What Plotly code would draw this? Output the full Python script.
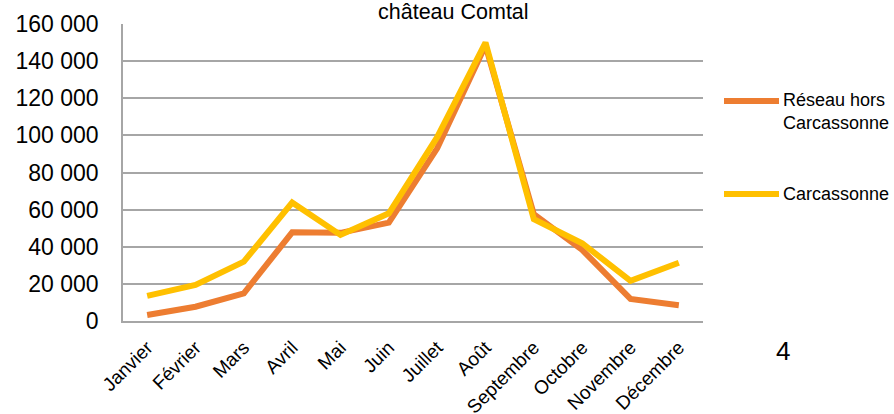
import plotly.graph_objects as go

months = ["Janvier", "Février", "Mars", "Avril", "Mai", "Juin", "Juillet",
          "Août", "Septembre", "Octobre", "Novembre", "Décembre"]
reseau_hors = [3200, 7700, 14900, 47800, 47500, 53000, 93000,
               148500, 57500, 38300, 11900, 8500]
carcassonne = [13500, 19400, 32000, 63800, 46400, 58000, 99000,
               150000, 54800, 41900, 21600, 31400]
y_ticks = [0, 20000, 40000, 60000, 80000, 100000, 120000, 140000, 160000]

ORANGE = "#ED7D31"
YELLOW = "#FFC000"
GRID = "#A6A6A6"
FONT = "Liberation Sans, Arial, sans-serif"

W, H = 894, 414
# plot area bounds in page pixels
L, R, T, B = 123, 703, 24, 321


def px_x(x):
    return (x - L) / (R - L)


def px_y(y):
    return (B - y) / (B - T)


fig = go.Figure()
fig.add_trace(go.Scatter(x=months, y=reseau_hors, mode="lines",
                         line=dict(color=ORANGE, width=6),
                         name="Réseau hors Carcassonne", showlegend=False))
fig.add_trace(go.Scatter(x=months, y=carcassonne, mode="lines",
                         line=dict(color=YELLOW, width=6),
                         name="Carcassonne", showlegend=False))

# manual legend
legend_items = [("Réseau hors<br>Carcassonne", ORANGE, 101, 111),
                ("Carcassonne", YELLOW, 194, 194)]
shapes = []
annotations = []
for text, color, ly, ty in legend_items:
    shapes.append(dict(type="line", xref="paper", yref="paper",
                       x0=px_x(724), x1=px_x(779), y0=px_y(ly), y1=px_y(ly),
                       line=dict(color=color, width=6), layer="above"))
    annotations.append(dict(text=text, xref="paper", yref="paper",
                            x=px_x(781), y=px_y(ty), xanchor="left",
                            yanchor="middle", align="left", showarrow=False,
                            font=dict(family=FONT, size=18, color="#000000")))

annotations.append(dict(text="château Comtal", xref="paper", yref="paper",
                        x=px_x(453), y=px_y(12), xanchor="center",
                        yanchor="middle", showarrow=False,
                        font=dict(family=FONT, size=21.5, color="#000000")))
annotations.append(dict(text="4", xref="paper", yref="paper",
                        x=px_x(783), y=px_y(351), xanchor="center",
                        yanchor="middle", showarrow=False,
                        font=dict(family=FONT, size=26, color="#000000")))

fig.update_layout(
    width=W, height=H,
    margin=dict(l=L, r=W - R, t=T, b=H - B, pad=0, autoexpand=False),
    paper_bgcolor="white", plot_bgcolor="white",
    separators=", ",
    showlegend=False,
    shapes=shapes,
    annotations=annotations,
    font=dict(family=FONT, color="#000000"),
)
fig.update_xaxes(
    type="category", range=[-0.5, 11.5], automargin=False,
    showgrid=False, showline=True, linecolor=GRID, linewidth=2,
    tickangle=-45, tickfont=dict(family=FONT, size=19, color="#000000"),
    ticks="", ticklabelstandoff=6,
)
fig.update_yaxes(
    range=[0, 160000], tickvals=y_ticks, tickformat=",d", automargin=False,
    showgrid=True, gridcolor=GRID, gridwidth=1.5,
    showline=True, linecolor=GRID, linewidth=1.5,
    zeroline=False,
    tickfont=dict(family=FONT, size=23, color="#000000"),
    ticks="", ticklabelstandoff=18,
)

fig.write_html(
    "out.html",
    config={"displayModeBar": False},
    post_script="document.body.style.margin='0';"
                "document.body.style.overflow='hidden';",
)
